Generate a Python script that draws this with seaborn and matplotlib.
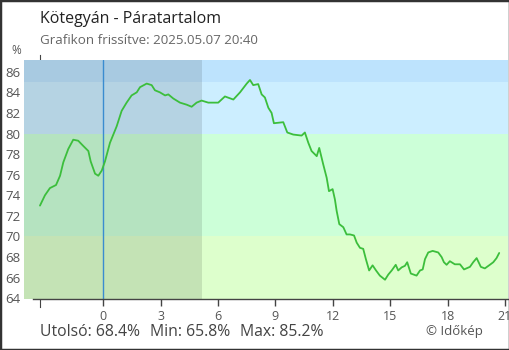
import matplotlib
matplotlib.use("Agg")
import matplotlib.pyplot as plt
from matplotlib.patches import Rectangle
import seaborn as sns
import pandas as pd

# ---- data -------------------------------------------------------------
hours = [-3.31, -3.05, -2.79, -2.47, -2.26, -2.09, -1.83, -1.57, -1.31, -1.05,
         -0.78, -0.66, -0.43, -0.26, -0.08, 0.09, 0.35, 0.70, 0.96, 1.22,
         1.48, 1.75, 1.92, 2.27, 2.53, 2.70, 2.96, 3.23, 3.40, 3.66,
         4.01, 4.36, 4.62, 4.88, 5.14, 5.49, 6.01, 6.36, 6.80, 7.15,
         7.50, 7.67, 7.84, 8.10, 8.28, 8.45, 8.63, 8.80, 8.92, 9.41,
         9.62, 9.93, 10.37, 10.54, 10.72, 10.89, 11.16, 11.29, 11.50, 11.68,
         11.80, 11.99, 12.11, 12.20, 12.34, 12.55, 12.72, 12.90, 13.11, 13.25,
         13.42, 13.59, 13.73, 13.90, 14.08, 14.26, 14.46, 14.73, 14.90, 15.08,
         15.29, 15.42, 15.60, 15.77, 15.89, 16.08, 16.38, 16.56, 16.70, 16.82,
         16.99, 17.22, 17.51, 17.69, 17.81, 17.95, 18.12, 18.38, 18.65, 18.86,
         19.17, 19.34, 19.52, 19.74, 19.95, 20.21, 20.39, 20.56, 20.70]
humidity = [73.0, 74.0, 74.7, 75.0, 75.9, 77.2, 78.5, 79.4, 79.3, 78.8,
            78.3, 77.3, 76.1, 75.9, 76.4, 77.3, 79.1, 80.7, 82.2, 83.0,
            83.7, 84.0, 84.5, 84.85, 84.7, 84.2, 84.0, 83.7, 83.8, 83.4,
            83.0, 82.8, 82.6, 83.0, 83.2, 83.0, 83.0, 83.6, 83.3, 84.0,
            84.85, 85.2, 84.7, 84.8, 83.8, 83.5, 82.5, 82.0, 81.0, 81.1,
            80.1, 79.9, 79.8, 80.1, 79.1, 78.3, 77.8, 78.6, 77.0, 75.7,
            74.4, 74.6, 73.6, 72.5, 71.2, 70.9, 70.2, 70.2, 70.1, 69.4,
            68.9, 68.8, 67.8, 66.7, 67.2, 66.7, 66.2, 65.8, 66.3, 66.7,
            67.25, 66.7, 67.0, 67.15, 67.5, 66.4, 66.2, 66.7, 66.8, 67.8,
            68.45, 68.6, 68.45, 68.0, 67.5, 67.25, 67.6, 67.3, 67.3, 66.8,
            67.05, 67.5, 67.9, 67.05, 66.9, 67.25, 67.5, 67.9, 68.4]

x_ticks = [0, 3, 6, 9, 12, 15, 18, 21]
x_tick_labels = ["0", "3", "6", "9", "12", "15", "18", "21"]
y_ticks = [64, 66, 68, 70, 72, 74, 76, 78, 80, 82, 84, 86]

band_edges = [(60, 70), (70, 80), (80, 85), (85, 90)]
band_colors = ["#ddffcc", "#ccffd8", "#cceeff", "#bde3fd"]
night_span = (-5.0, 5.16)

title = "Kötegyán - Páratartalom"
subtitle = "Grafikon frissítve: 2025.05.07 20:40"
footer_parts = ["Utolsó: 68.4%", "Min: 65.8%", "Max: 85.2%"]
credit = "© Időkép"

# ---- style ------------------------------------------------------------
sns.set_style("white")
plt.rcParams["font.family"] = ["Open Sans", "DejaVu Sans"]

W, H = 510, 350
fig = plt.figure(figsize=(W / 100, H / 100), dpi=100)
ax = fig.add_axes([24 / W, 1 - 299.3 / H, (508 - 24) / W, (299.3 - 60) / H])

xmin, xmax = -4.145, 21.16
ymin, ymax = 63.9, 87.14

for (lo, hi), c in zip(band_edges, band_colors):
    ax.axhspan(lo, hi, color=c, lw=0, zorder=1)
ax.axvspan(night_span[0], night_span[1], color="black", alpha=0.11, lw=0, zorder=1.5)
ax.axvline(0, color="#3a8cd0", lw=1.0, zorder=1.8)

df = pd.DataFrame({"h": hours, "v": humidity})
sns.lineplot(data=df, x="h", y="v", ax=ax, color="#3cbe3c", lw=1.3, zorder=3)

ax.set_xlim(xmin, xmax)
ax.set_ylim(ymin, ymax)
ax.set_xlabel("")
ax.set_ylabel("")

# spines
for s in ["top", "right"]:
    ax.spines[s].set_visible(False)
ax.spines["bottom"].set_color("#444444")
ax.spines["bottom"].set_linewidth(1.0)
ax.spines["bottom"].set_bounds(-3.68, xmax)
ax.spines["left"].set_position(("data", -3.3))
ax.spines["left"].set_color("#444444")
ax.spines["left"].set_linewidth(0.8)
ax.spines["left"].set_bounds(63.2, 87.6)
ax.spines["left"].set_zorder(0.5)

ax.set_xticks(x_ticks)
ax.set_xticklabels(x_tick_labels)
ax.set_yticks(y_ticks)
ax.tick_params(axis="x", direction="out", length=5, width=1, color="#444444",
               labelsize=9, labelcolor="#555555", pad=2.5, bottom=True)
ax.tick_params(axis="y", direction="inout", length=9.4, width=1, color="#444444",
               labelsize=9.5, labelcolor="#555555", pad=9.5, left=True)
ax.grid(False)

# texts
fig.text(40 / W, 1 - 19 / H, title, fontsize=11.5, color="#222222", va="center", ha="left")
fig.text(40 / W, 1 - 41 / H, subtitle, fontsize=9.6, color="#666666", va="center", ha="left")
fig.text(21 / W, 1 - 51 / H, "%", fontsize=8.5, color="#555555", va="center", ha="right")
for xpix, part in zip([40, 150.5, 240.5], footer_parts):
    fig.text(xpix / W, 1 - 332 / H, part, fontsize=11.3, color="#444444", va="center", ha="left")
fig.text(454 / W, 1 - 331 / H, credit, fontsize=9.5, color="#555555", va="center", ha="center")

fig.patches.append(Rectangle((0, 0), 1, 1, transform=fig.transFigure, fill=False,
                             edgecolor="#333333", lw=2.5, zorder=10))

fig.savefig("out.png", dpi=100)
